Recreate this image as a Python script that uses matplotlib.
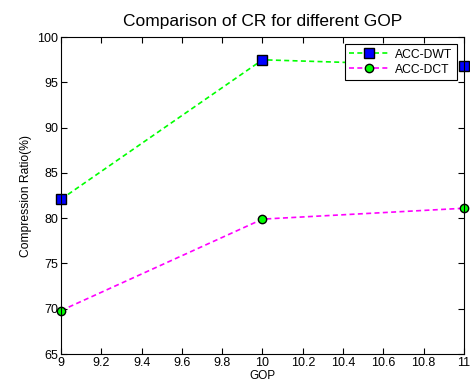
import matplotlib
matplotlib.use("Agg")
import matplotlib.pyplot as plt

plt.rcParams['font.family'] = ['Liberation Sans', 'DejaVu Sans']

gop = [9, 10, 11]
cr_dwt = [82.1, 97.5, 96.8]
cr_dct = [69.8, 79.9, 81.1]

fig = plt.figure(figsize=(4.7, 3.85), dpi=100)
ax = fig.add_axes([0.130, 0.0805, 0.857, 0.823])

ax.plot(gop, cr_dwt, '--s', color='#00ff00', lw=1.2, ms=7, dashes=(3, 2),
        mfc='#0000ff', mec='black', mew=1, label='ACC-DWT', clip_on=False)
ax.plot(gop, cr_dct, '--o', color='#ff00ff', lw=1.2, ms=6, dashes=(3, 2),
        mfc='#00ff00', mec='black', mew=1, label='ACC-DCT', clip_on=False)

ax.set_xlim(9, 11)
ax.set_ylim(65, 100)
ax.set_xticks([9, 9.2, 9.4, 9.6, 9.8, 10, 10.2, 10.4, 10.6, 10.8, 11])
ax.set_xticklabels(['9', '9.2', '9.4', '9.6', '9.8', '10', '10.2', '10.4', '10.6', '10.8', '11'])
ax.set_yticks(range(65, 101, 5))
ax.tick_params(direction='in', top=True, right=True, labelsize=9, length=4, pad=2)
for s in ax.spines.values():
    s.set_linewidth(0.8)

ax.set_xlabel('GOP', fontsize=8.5, labelpad=1)
ax.set_ylabel('Compression Ratio(%)', fontsize=8.7, labelpad=4)
ax.set_title('Comparison of CR for different GOP', fontsize=12.5, pad=8)

leg = ax.legend(loc='upper right', fontsize=8.7, fancybox=False, framealpha=1,
                edgecolor='black', borderaxespad=0.6, handlelength=3.2,
                labelspacing=0.25, borderpad=0.35, handletextpad=0.6)
leg.get_frame().set_linewidth(0.8)

fig.savefig('out.png', dpi=100)
